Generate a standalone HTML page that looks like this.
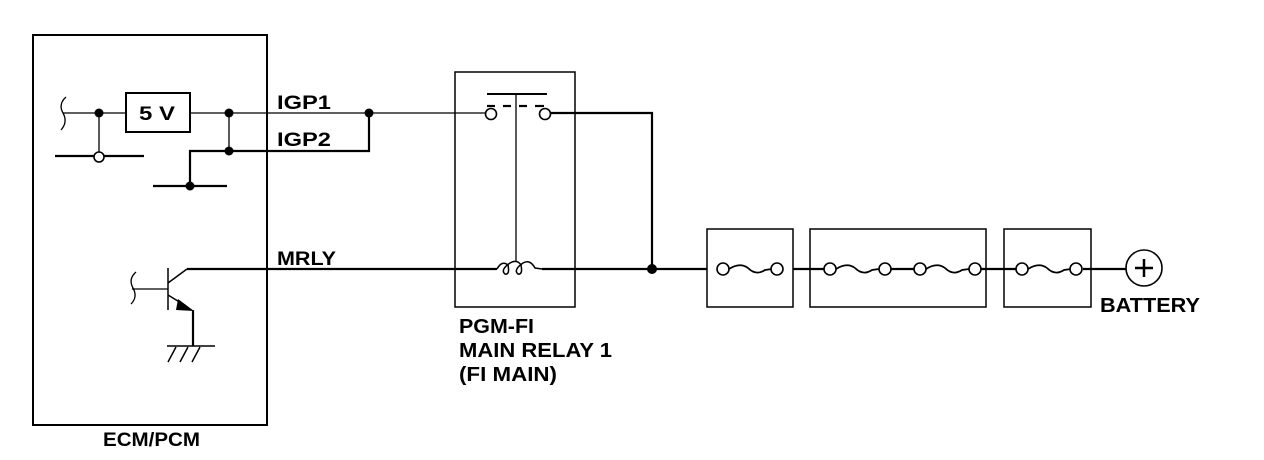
<!DOCTYPE html>
<html><head><meta charset="utf-8"><style>
html,body{margin:0;padding:0;background:#fff;}
svg{display:block;}
text{font-family:"Liberation Sans",Arial,sans-serif;font-weight:bold;fill:#000;}
</style></head><body>
<svg width="1264" height="460" viewBox="0 0 1264 460" xmlns="http://www.w3.org/2000/svg">
<g fill="none" stroke="#000" stroke-width="2">
<rect x="33" y="35" width="234" height="390"/>
<rect x="455" y="72" width="120" height="235" stroke-width="1.5"/>
<rect x="707" y="229" width="86" height="78" stroke-width="1.5"/>
<rect x="810" y="229" width="176" height="78" stroke-width="1.5"/>
<rect x="1004" y="229" width="87" height="78" stroke-width="1.5"/>
</g>
<g fill="none" stroke="#000" stroke-width="1.3">
<path d="M66 97 Q58 104 63 113 Q68 122 61 130"/>
<path d="M136 272 Q128 279 133 288 Q138 297 131 304"/>
<line x1="63" y1="113" x2="126" y2="113"/>
<rect x="126" y="93" width="64" height="39" stroke-width="2"/>
<line x1="190" y1="113" x2="486" y2="113"/>
<line x1="99" y1="113" x2="99" y2="152"/>
<line x1="229" y1="113" x2="229" y2="151"/>
<line x1="132" y1="289" x2="168" y2="289"/>
<line x1="516" y1="94" x2="516" y2="262"/>
</g>
<g fill="none" stroke="#000" stroke-width="2.2">
<line x1="55" y1="156" x2="94" y2="156"/>
<line x1="104" y1="156" x2="144" y2="156"/>
<polyline points="190,186 190,151 369,151 369,113"/>
<line x1="153" y1="186" x2="227" y2="186"/>
<line x1="168" y1="268" x2="168" y2="310" stroke-width="1.5"/>
<line x1="168" y1="283" x2="187" y2="269" stroke-width="1.5"/>
<line x1="168" y1="295" x2="186" y2="306" stroke-width="1.5"/>
<polyline points="193,310 193,346"/>
<line x1="167" y1="346" x2="215" y2="346" stroke-width="1.5"/>
<line x1="176" y1="347" x2="168" y2="362" stroke-width="1.5"/>
<line x1="188" y1="347" x2="180" y2="362" stroke-width="1.5"/>
<line x1="200" y1="347" x2="192" y2="362" stroke-width="1.5"/>
<line x1="187" y1="269" x2="497" y2="269"/>
<line x1="542" y1="269" x2="707" y2="269"/>
<line x1="487" y1="94" x2="547" y2="94" stroke-width="2"/>
<line x1="487" y1="106" x2="495" y2="106"/>
<line x1="503" y1="106" x2="511" y2="106"/>
<line x1="519" y1="106" x2="527" y2="106"/>
<line x1="535" y1="106" x2="544" y2="106"/>
<polyline points="550,113 652,113 652,269"/>
<path d="M497 269 Q502 260 508 265 Q510 275 505 274 Q500 270 510 263 Q517 259 521 265 Q523 275 518 274 Q513 270 523 263 Q530 259 535 268 L542 269" stroke-width="1.5"/>
<line x1="793" y1="269" x2="825" y2="269"/>
<line x1="891" y1="269" x2="915" y2="269"/>
<line x1="981" y1="269" x2="1017" y2="269"/>
<line x1="1083" y1="269" x2="1126" y2="269"/>
</g>
<g fill="none" stroke="#000" stroke-width="1.7">
<path d="M729 269 Q740 262 748 268 Q756 276 765 270 L772 269"/>
<path d="M836 269 Q847 262 855 268 Q863 276 872 270 L879 269"/>
<path d="M926 269 Q937 262 945 268 Q953 276 962 270 L969 269"/>
<path d="M1028 269 Q1039 262 1047 268 Q1055 276 1064 270 L1071 269"/>
</g>
<g fill="#fff" stroke="#000" stroke-width="1.6">
<circle cx="99" cy="157" r="5"/>
<circle cx="491" cy="114" r="5.5"/>
<circle cx="545" cy="114" r="5.5"/>
<circle cx="723" cy="269" r="6"/>
<circle cx="777" cy="269" r="6"/>
<circle cx="830" cy="269" r="6"/>
<circle cx="885" cy="269" r="6"/>
<circle cx="920" cy="269" r="6"/>
<circle cx="975" cy="269" r="6"/>
<circle cx="1022" cy="269" r="6"/>
<circle cx="1076" cy="269" r="6"/>
<circle cx="1144" cy="268" r="18"/>
</g>
<path d="M1135 268 H1153 M1144 259 V277" stroke="#000" stroke-width="2.5"/>
<polygon points="178,299 194,311 176,310" fill="#000"/>
<g fill="#000">
<circle cx="99" cy="113" r="4.5"/>
<circle cx="229" cy="113" r="4.5"/>
<circle cx="229" cy="151" r="4.5"/>
<circle cx="190" cy="186" r="4.5"/>
<circle cx="369" cy="113" r="4.5"/>
<circle cx="652" cy="269" r="5"/>
</g>
<text x="139" y="120" font-size="19" textLength="36" lengthAdjust="spacingAndGlyphs">5 V</text>
<text x="277" y="109" font-size="19" textLength="54" lengthAdjust="spacingAndGlyphs">IGP1</text>
<text x="277" y="146" font-size="19" textLength="54" lengthAdjust="spacingAndGlyphs">IGP2</text>
<text x="277" y="265" font-size="19" textLength="59" lengthAdjust="spacingAndGlyphs">MRLY</text>
<text x="459" y="333" font-size="20" textLength="75" lengthAdjust="spacingAndGlyphs">PGM-FI</text>
<text x="459" y="357" font-size="20" textLength="153" lengthAdjust="spacingAndGlyphs">MAIN RELAY 1</text>
<text x="459" y="381" font-size="20" textLength="98" lengthAdjust="spacingAndGlyphs">(FI MAIN)</text>
<text x="103" y="446" font-size="19" textLength="97" lengthAdjust="spacingAndGlyphs">ECM/PCM</text>
<text x="1100" y="312" font-size="20" textLength="100" lengthAdjust="spacingAndGlyphs">BATTERY</text>
</svg>
</body></html>
